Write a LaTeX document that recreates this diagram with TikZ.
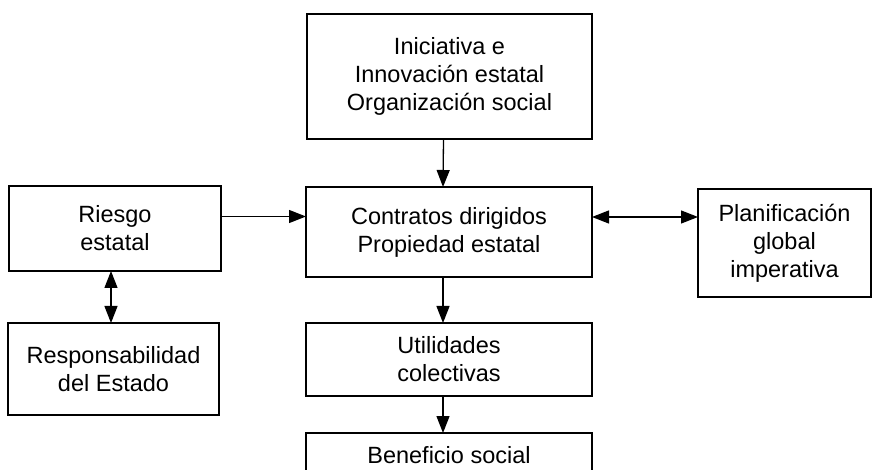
\documentclass[tikz,border=0pt]{standalone}
\usepackage{fontspec}
\setmainfont{Liberation Sans}
\usepackage{tikz}
\usetikzlibrary{arrows.meta, positioning, calc}
\tikzset{blk/.style={draw,line width=1.5pt,align=center,inner sep=1mm,outer sep=0pt,font=\fontsize{23.5}{28}\selectfont}}
\tikzset{link/.style={line width=1.3pt}}

\begin{document}
\begin{tikzpicture}[x=1pt,y=1pt,>={Triangle[length=17pt,width=13pt]}]
                    \useasboundingbox (0,0) rectangle (873,469);
                    \node[blk, minimum width=285pt, minimum height=125pt] (ini) at (449.5,392.5) {Iniciativa e\\Innovación estatal\\Organización social};
                    \node[blk, minimum width=286pt, minimum height=90pt] (contr) at (449,237) {Contratos dirigidos\\Propiedad estatal};
                    \node[blk, minimum width=212pt, minimum height=85pt] (riesgo) at (115,240.5) {Riesgo\\estatal};
                    \node[blk, minimum width=173pt, minimum height=108pt] (planif) at (784.5,226) {Planificación\\global\\imperativa};
                    \node[blk, minimum width=211pt, minimum height=92pt] (resp) at (113.5,100) {Responsabilidad\\del Estado};
                    \node[blk, minimum width=286pt, minimum height=73pt] (util) at (449,109.5) {Utilidades\\colectivas};
                    \node[blk, minimum width=286pt, minimum height=44pt] (benef) at (449,14) {Beneficio social};

                    \draw[link,->] ([xshift=-6pt]ini.south) -- ([xshift=-6pt]contr.north);
                    \draw[link,->] ([yshift=12pt]riesgo.east) -- ([yshift=12pt]riesgo.east -| contr.west);
                    \draw[link,<->] ([yshift=15pt]contr.east) -- ([yshift=15pt]contr.east -| planif.west);
                    \draw[link,<->] ([xshift=-4pt]riesgo.south) -- ([xshift=-4pt]riesgo.south |- resp.north);
                    \draw[link,->] ([xshift=-6pt]contr.south) -- ([xshift=-6pt]util.north);
                    \draw[link,->] ([xshift=-6pt]util.south) -- ([xshift=-6pt]benef.north);

                \end{tikzpicture}
\end{document}
